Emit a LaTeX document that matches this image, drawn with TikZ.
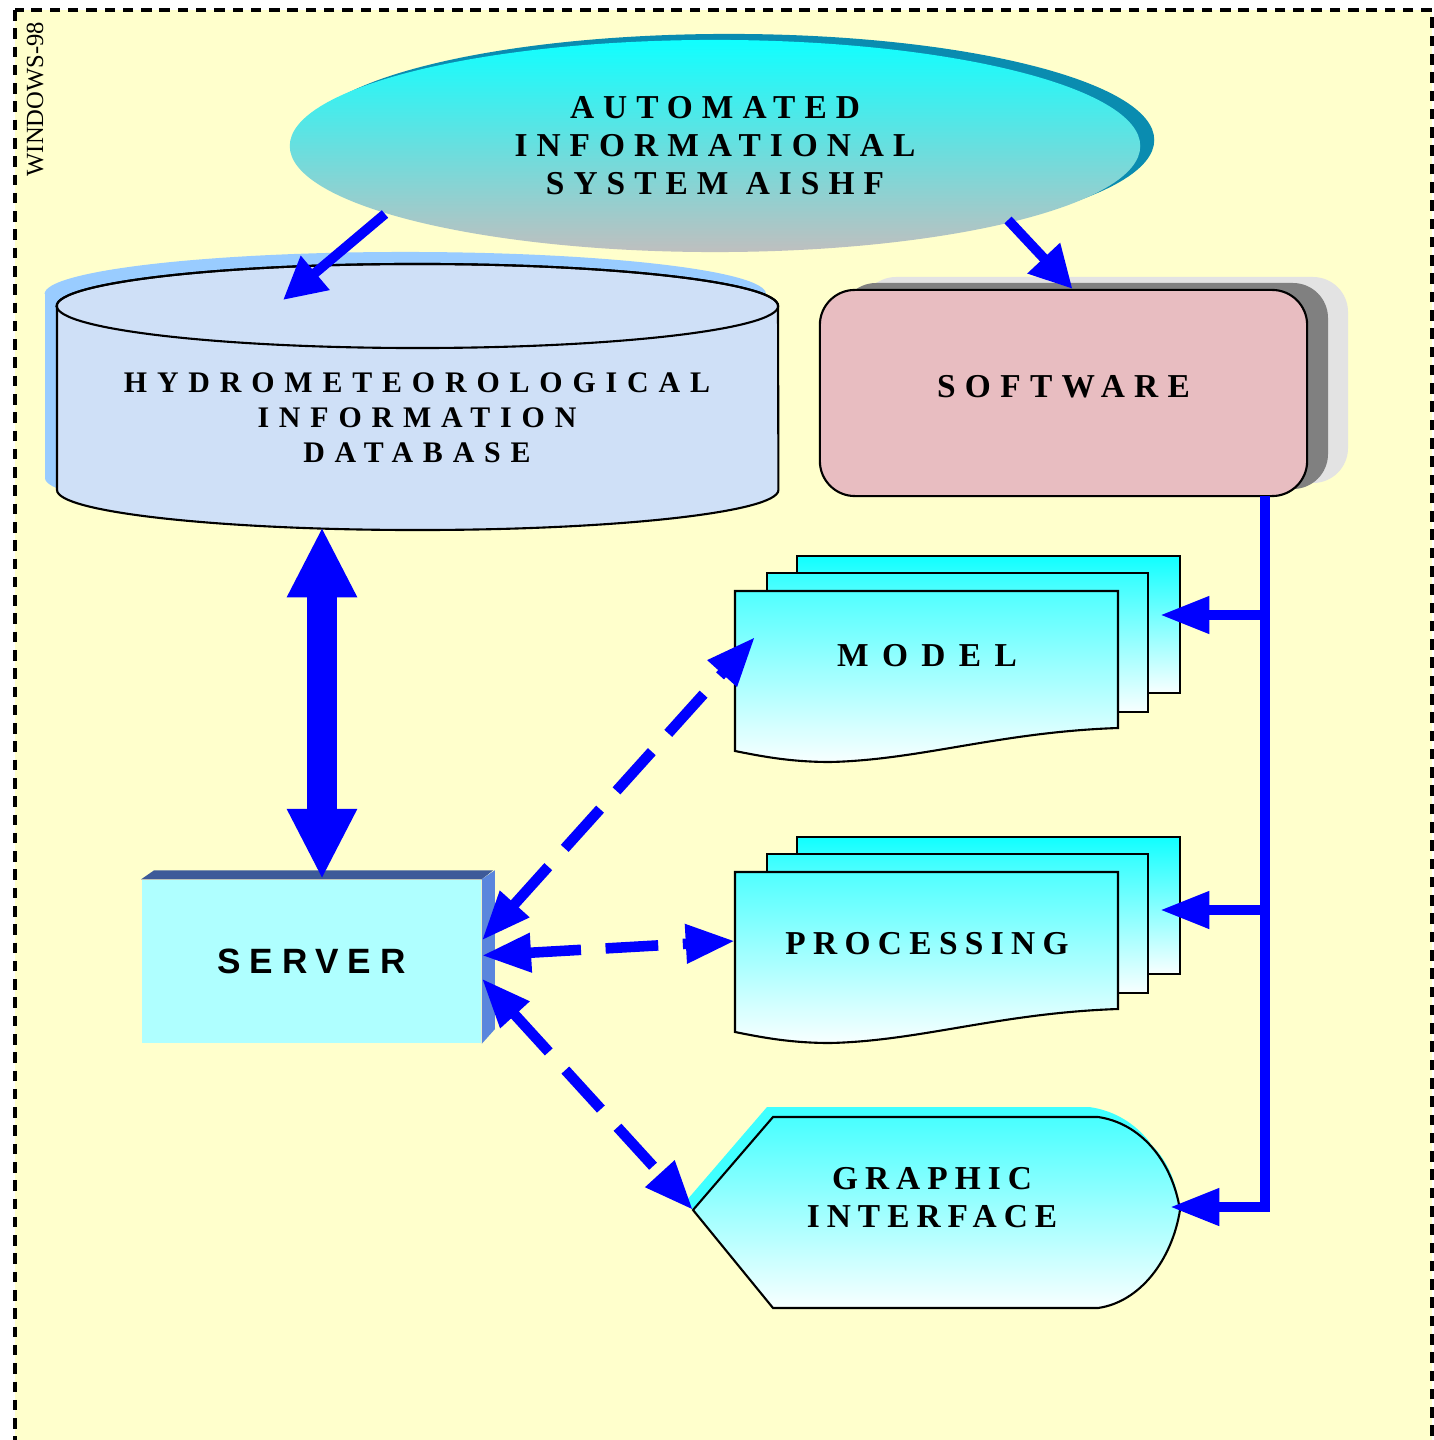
\documentclass[tikz,border=0pt]{standalone}
\usepackage{fontspec}
\setmainfont{Liberation Serif}
\newfontfamily\arialfont{Liberation Sans}
\usetikzlibrary{arrows.meta,shapes.geometric}

\definecolor{paper}{HTML}{FFFFCC}
\definecolor{arrowblue}{HTML}{0000FF}
\definecolor{aitop}{HTML}{10FFFF}
\definecolor{aibottom}{HTML}{BFBFBF}
\definecolor{aishadow}{HTML}{0A8CB0}
\definecolor{dbfill}{HTML}{CFE0F7}
\definecolor{dbshadow}{HTML}{99CCFF}
\definecolor{swfill}{HTML}{E8BDC1}
\definecolor{swdark}{HTML}{808080}
\definecolor{swlight}{HTML}{E3E3E3}
\definecolor{backtop}{HTML}{10FFFF}
\definecolor{fronttop}{HTML}{50FFFF}
\definecolor{sheetbottom}{HTML}{F8FFFF}
\definecolor{gishadow}{HTML}{40FFFF}
\definecolor{servfill}{HTML}{AFFFFF}
\definecolor{servtop}{HTML}{3D5A99}
\definecolor{servside}{HTML}{5A86DD}

\tikzset{
  caps/.style={font={\fontsize{9.5}{10.8}\selectfont\bfseries\addfontfeature{LetterSpace=#1}}, align=center},
  dbcaps/.style={font={\fontsize{8.5}{10}\selectfont\bfseries\addfontfeature{LetterSpace=#1}}, align=center},
  sheet/.style={draw=black, line width=0.6pt},
  feed/.style={arrowblue, line width=2.8pt, -{Triangle[length=12pt,width=12pt]}},
  link/.style={arrowblue, line width=3pt, dash pattern=on 15pt off 7pt,
    {Triangle[length=14pt,width=10.5pt]}-{Triangle[length=14pt,width=10.5pt]}},
  busline/.style={arrowblue, line width=2.8pt, -{Triangle[length=14pt,width=10pt]}},
  bigarrow/.style={arrowblue, line width=8.5pt,
    {Triangle[length=20pt,width=18.5pt]}-{Triangle[length=20pt,width=18.5pt]}},
  swbox/.style={rectangle, rounded corners=0.35cm, draw=black, line width=0.6pt, fill=swfill,
    minimum width=4.87cm, minimum height=2.06cm, text depth=0.14cm, caps=28},
  servbox/.style={rectangle, fill=servfill, minimum width=3.39cm, minimum height=1.63cm,
    font={\fontsize{10}{12}\selectfont\arialfont\bfseries\addfontfeature{LetterSpace=25}}}
}

\begin{document}
\begin{tikzpicture}[x=0.01cm, y=-0.01cm]
    \useasboundingbox (0,0) rectangle (1434,1440);

    % Frame
    \fill[paper] (15,10) rectangle (1432,1450);
    \draw[line width=1.1pt, dash pattern=on 3pt off 2.2pt] (15,10) rectangle (1432,1450);
    \node[rotate=90, font=\fontsize{7}{8}\selectfont] (os) at (35,99) {WINDOWS-98};

    % Top ellipse
    \fill[aishadow] (729,140) ellipse [x radius=4.25cm, y radius=1.06cm];
    \node[ellipse, top color=aitop, bottom color=aibottom, minimum width=8.5cm, minimum height=2.12cm,
      caps=27] (aishf) at (715,146) {AUTOMATED\\INFORMATIONAL\\SYSTEM AISHF};
    \coordinate (ai-left) at (385,214);
    \coordinate (ai-right) at (1008,220);

    % Database cylinder
    \fill[dbshadow] (45,294) -- (45,478) arc [start angle=180, end angle=360, x radius=3.605cm, y radius=0.4cm]
      -- (766,294) arc [start angle=0, end angle=180, x radius=3.605cm, y radius=0.42cm] -- cycle;
    \filldraw[fill=dbfill, draw=black, line width=0.6pt] (57,306) -- (57,490)
      arc [start angle=180, end angle=360, x radius=3.605cm, y radius=0.4cm]
      -- (778,306) arc [start angle=0, end angle=180, x radius=3.605cm, y radius=0.42cm] -- cycle;
    \draw[line width=0.6pt] (417.5,306) ellipse [x radius=3.605cm, y radius=0.42cm];
    \node[dbcaps=33] (db) at (417,418) {HYDROMETEOROLOGICAL\\INFORMATION\\DATABASE};
    \coordinate (db-in) at (283,300);
    \coordinate (db-out) at (322,527);

    % Software box
    \fill[swlight, rounded corners=0.35cm] (861,277) rectangle (1348,483);
    \fill[swdark, rounded corners=0.35cm] (841,283) rectangle (1328,489);
    \node[swbox] (sw) at (1063.5,393) {SOFTWARE};
    \coordinate (bustop) at (1265,496);

    % Stacked documents
    \foreach \dy/\ty/\name/\txt/\ls in {0/656/model/MODEL/40, 281/944/proc/PROCESSING/22} {
      \draw[sheet, top color=backtop, bottom color=sheetbottom] (797,556+\dy) rectangle (1180,693+\dy);
      \draw[sheet, top color=backtop!85!white, bottom color=sheetbottom] (767,573+\dy) rectangle (1148,712+\dy);
      \draw[sheet, top color=fronttop, bottom color=sheetbottom] (735,591+\dy) -- (1118,591+\dy) -- (1118,728+\dy)
        .. controls (1000,732+\dy) and (920,760+\dy) .. (830,762+\dy)
        .. controls (790,762+\dy) and (760,756+\dy) .. (735,751+\dy) -- cycle;
      \node[caps=\ls] (\name) at (927,\ty) {\txt};
    }
    \coordinate (model-in) at (1160,615);
    \coordinate (proc-in) at (1160,910);
    \coordinate (model-out) at (755,637);
    \coordinate (proc-out) at (735,941);

    % Graphic interface
    \fill[gishadow] (687,1200) -- (767,1107) -- (1089,1107) .. controls (1134,1113) and (1166,1150) .. (1174,1200)
      -- (1174,1210) -- (1180,1210) .. controls (1175,1160) and (1145,1125) .. (1095,1117) -- (773,1117) -- (693,1210) -- cycle;
    \draw[sheet, top color=fronttop!90!cyan, bottom color=sheetbottom] (693,1210) -- (773,1117) -- (1098,1117)
      .. controls (1140,1123) and (1172,1160) .. (1180,1210)
      .. controls (1172,1260) and (1140,1302) .. (1098,1308) -- (773,1308) -- cycle;
    \node[caps=21] (gi) at (932,1198) {GRAPHIC\\INTERFACE};
    \coordinate (gi-west) at (693,1210);
    \coordinate (gi-east) at (1170,1207);

    % Server box
    \node[servbox] (server) at (311.5,961.5) {SERVER};
    \fill[servtop] (server.north west) -- ++(13,-9) -- ++(339,0) -- (server.north east) -- cycle;
    \fill[servside] (server.north east) -- ++(13,-9) -- ++(0,159) -- (server.south east) -- cycle;

    % Arrows from the system
    \draw[feed] (ai-left) -- (db-in);
    \draw[feed] (ai-right) -- ([xshift=0.09cm]sw.north);

    % Database <-> server
    \draw[bigarrow] (db-out) -- (db-out |- server.north);

    % Software bus
    \draw[busline] (bustop) |- (gi-east);
    \draw[busline] (bustop |- model-in) -- (model-in);
    \draw[busline] (bustop |- proc-in) -- (proc-in);

    % Server links
    \draw[link] ([yshift=0.21cm]server.east) -- (model-out);
    \draw[link] ([yshift=0.06cm]server.east) -- (proc-out);
    \draw[link] ([yshift=-0.17cm]server.east) -- (gi-west);
\end{tikzpicture}
\end{document}
